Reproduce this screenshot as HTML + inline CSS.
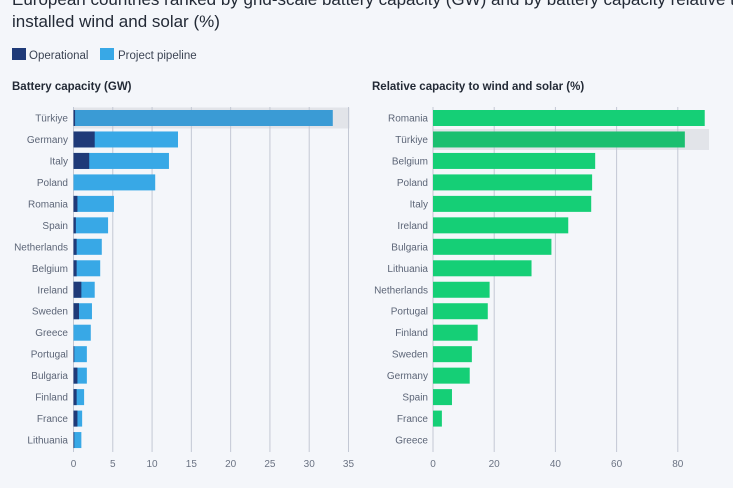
<!DOCTYPE html>
<html><head><meta charset="utf-8"><style>
html,body{margin:0;padding:0;background:#f4f6fa;width:733px;height:488px;overflow:hidden}
svg{display:block;font-family:"Liberation Sans",sans-serif}
</style></head><body>
<svg id="s" width="733" height="488" viewBox="0 0 733 488">
<text x="12" y="5" font-size="17" fill="#232a36">European countries ranked by grid-scale battery capacity (GW) and by battery capacity relative to</text>
<text x="12" y="27" font-size="17" fill="#232a36">installed wind and solar (%)</text>
<rect x="12" y="48" width="14" height="12" fill="#1f3a78"/>
<text x="29" y="59" font-size="11.5" fill="#3c4454">Operational</text>
<rect x="100" y="48" width="14" height="12" fill="#38a8e6"/>
<text x="118" y="59" font-size="11.5" fill="#3c4454">Project pipeline</text>
<text x="12" y="90" font-size="11.5" font-weight="bold" fill="#232a36">Battery capacity (GW)</text>
<text x="372" y="90" font-size="11.5" font-weight="bold" fill="#232a36">Relative capacity to wind and solar (%)</text>
<g id="g"></g>
</svg>
<script>
var g=document.getElementById('g'),h='';
function y(i){return 118+21.47*i;}
// left
var L=[["Türkiye",33,0.2],["Germany",13.3,2.7],["Italy",12.15,2.0],["Poland",10.4,0],["Romania",5.15,0.5],["Spain",4.4,0.3],["Netherlands",3.6,0.4],["Belgium",3.4,0.4],["Ireland",2.7,1.0],["Sweden",2.35,0.7],["Greece",2.2,0],["Portugal",1.7,0.1],["Bulgaria",1.7,0.5],["Finland",1.35,0.4],["France",1.1,0.5],["Lithuania",1.0,0.1]];
function xl(v){return 73.5+7.857*v;}
h+='<rect x="73.5" y="107.5" width="276" height="21" fill="#e2e4e9"/>';
for(var k=0;k<=35;k+=5){var X=xl(k);h+='<line x1="'+X+'" y1="107" x2="'+X+'" y2="452" stroke="#c3c8d4" stroke-width="1"/><text x="'+X+'" y="467" font-size="10" fill="#6b7383" text-anchor="middle">'+k+'</text>';}
L.forEach(function(d,i){var c=y(i);
h+='<text x="68" y="'+(c+3.5)+'" font-size="10" fill="#5c6577" text-anchor="end">'+d[0]+'</text>';
h+='<rect x="'+xl(0)+'" y="'+(c-8)+'" width="'+(7.857*d[1])+'" height="16" fill="'+(i==0?'#3a9bd5':'#38a8e6')+'"/>';
if(d[2]>0)h+='<rect x="'+xl(0)+'" y="'+(c-8)+'" width="'+(7.857*d[2])+'" height="16" fill="#1f3a78"/>';});
// right
var R=[["Romania",88.8],["Türkiye",82.3],["Belgium",53],["Poland",52],["Italy",51.7],["Ireland",44.2],["Bulgaria",38.7],["Lithuania",32.2],["Netherlands",18.5],["Portugal",17.9],["Finland",14.6],["Sweden",12.7],["Germany",12],["Spain",6.2],["France",2.9],["Greece",0]];
function xr(v){return 433+3.06*v;}
h+='<rect x="433" y="'+(y(1)-10.5)+'" width="276" height="21" fill="#e2e4e9"/>';
for(var k=0;k<=80;k+=20){var X=xr(k);h+='<line x1="'+X+'" y1="107" x2="'+X+'" y2="452" stroke="#c3c8d4" stroke-width="1"/><text x="'+X+'" y="467" font-size="10" fill="#6b7383" text-anchor="middle">'+k+'</text>';}
R.forEach(function(d,i){var c=y(i);
h+='<text x="428" y="'+(c+3.5)+'" font-size="10" fill="#5c6577" text-anchor="end">'+d[0]+'</text>';
if(d[1]>0)h+='<rect x="433" y="'+(c-8)+'" width="'+(3.06*d[1])+'" height="16" fill="'+(i==1?'#1bbf70':'#15cf76')+'"/>';});
g.innerHTML=h;
</script>
</body></html>
